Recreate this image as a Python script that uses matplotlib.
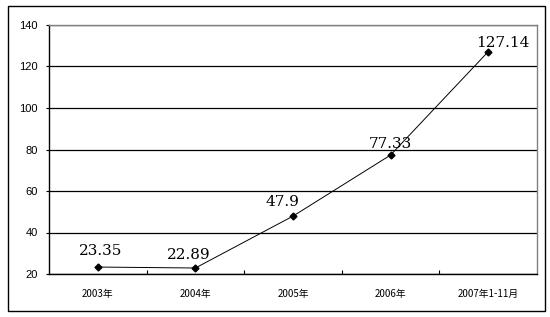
import matplotlib
matplotlib.use('Agg')
import matplotlib.pyplot as plt
from matplotlib.patches import Rectangle
from matplotlib.ticker import FixedLocator

# chart data
categories = ['2003年', '2004年', '2005年', '2006年', '2007年1-11月']
values = [23.35, 22.89, 47.9, 77.33, 127.14]
value_labels = ['23.35', '22.89', '47.9', '77.33', '127.14']
y_ticks = [20, 40, 60, 80, 100, 120, 140]

plt.rcParams['font.family'] = ['Noto Sans CJK SC', 'DejaVu Sans']

fig = plt.figure(figsize=(5.5, 3.17), dpi=100)
fig.patch.set_facecolor('white')

# outer chart border
fig.patches.append(Rectangle((8 / 550, 1 - 311 / 317), 537 / 550, 305 / 317,
                             transform=fig.transFigure, fill=False,
                             edgecolor='black', linewidth=1.0))

ax = fig.add_axes([49 / 550, 1 - 274 / 317, 488 / 550, 249 / 317])

x = list(range(len(categories)))
ax.plot(x, values, color='black', linewidth=0.7, marker='D', markersize=3.5,
        markerfacecolor='black', markeredgecolor='black', zorder=3)

# label offsets in pixels (dx, dy above point to baseline)
offsets = [(3, 12), (-7, 9), (-11, 10), (0, 7), (15, 5)]
for xi, v, lab, off in zip(x, values, value_labels, offsets):
    ax.annotate(lab, (xi, v), xytext=off, textcoords='offset pixels',
                ha='center', va='baseline', fontsize=11,
                family=['DejaVu Serif'], color='black')

ax.set_xlim(-0.5, len(categories) - 0.5)
ax.set_ylim(20, 140)
ax.set_yticks(y_ticks)
ax.set_yticklabels([str(t) for t in y_ticks], family=['Liberation Sans'])
ax.yaxis.grid(True, color='black', linewidth=0.9)
ax.set_axisbelow(True)

ax.set_xticks(x)
ax.set_xticklabels(categories, fontsize=7)
ax.xaxis.set_minor_locator(FixedLocator([i + 0.5 for i in x[:-1]]))
ax.tick_params(axis='x', which='major', length=0, pad=11)
ax.tick_params(axis='x', which='minor', direction='in', length=3, width=0.8)
ax.tick_params(axis='y', length=2, width=0.8, labelsize=8, pad=6)

for s in ['left', 'bottom']:
    ax.spines[s].set_color('black')
    ax.spines[s].set_linewidth(1.0)
for s in ['top', 'right']:
    ax.spines[s].set_color('#808080')
    ax.spines[s].set_linewidth(1.0)

fig.savefig('out.png', dpi=100)
plt.close(fig)
